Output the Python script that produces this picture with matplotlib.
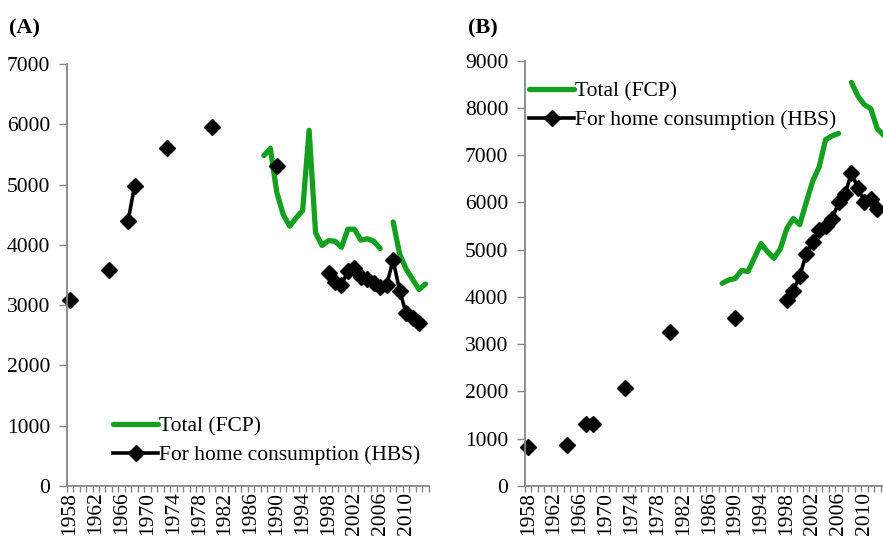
import numpy as np
import pandas as pd
import matplotlib
matplotlib.use('Agg')
import matplotlib.pyplot as plt

plt.rcParams['font.family'] = ['Liberation Serif', 'DejaVu Serif']

years = list(range(1958, 2014))
tick_years = years[::4]

# Panel A
fcp_a_years = list(range(1988, 2007)) + list(range(2008, 2014))
fcp_a = [5480, 5600, 4870, 4500, 4310, 4450, 4570, 5900, 4200, 3990,
         4070, 4060, 3960, 4260, 4260, 4080, 4100, 4060, 3940,
         4380, 3850, 3600, 3430, 3260, 3350]
hbs_a_years = [1958, 1964, 1967, 1968, 1973, 1980, 1990] + list(range(1998, 2013))
hbs_a = [3080, 3590, 4400, 4980, 5600, 5950, 5300,
         3530, 3390, 3340, 3560, 3610, 3460, 3440, 3370, 3300, 3340,
         3750, 3240, 2870, 2780, 2710]

# Panel B
fcp_b_years = list(range(1988, 2007)) + list(range(2008, 2014))
fcp_b = [4290, 4360, 4390, 4560, 4540, 4830, 5130, 4960, 4820, 5020,
         5450, 5660, 5530, 6000, 6450, 6750, 7330, 7410, 7460,
         8540, 8250, 8070, 7980, 7560, 7420]
hbs_b_years = [1958, 1964, 1967, 1968, 1973, 1980, 1990] + list(range(1998, 2013))
hbs_b = [820, 870, 1310, 1310, 2070, 3260, 3550,
         3940, 4130, 4450, 4900, 5170, 5420, 5500, 5650, 6000, 6170,
         6630, 6300, 6020, 6080, 5870]

GREEN = '#14a01e'
GREY = '#868686'


def on_years(yrs, vals):
    return pd.Series(vals, index=yrs, dtype=float).reindex(years).values


def draw_panel(ax, fcp_years, fcp, hbs_years, hbs, ymax, label, leg_anchor):
    x = np.arange(len(years))
    ax.plot(x, on_years(fcp_years, fcp), color=GREEN, lw=3.8,
            solid_capstyle='round', solid_joinstyle='round', label='Total (FCP)')
    ax.plot(x, on_years(hbs_years, hbs), color='black', lw=2.6, marker='D',
            ms=8.2, mec='black', mfc='black', clip_on=False,
            label='For home consumption (HBS)')

    ax.set_xlim(-0.5, len(years) - 0.5)
    ax.set_ylim(0, ymax)
    ax.set_yticks(np.arange(0, ymax + 1, 1000))

    ax.set_xticks(np.arange(-0.5, len(years), 1.0), minor=True)
    ax.set_xticks([years.index(y) for y in tick_years])
    ax.set_xticklabels([str(y) for y in tick_years], rotation=90)
    ax.tick_params(axis='x', which='major', length=0, pad=4, labelsize=15.5)
    ax.tick_params(axis='x', which='minor', length=4, color=GREY, width=1)
    ax.tick_params(axis='y', length=6, color=GREY, width=1, pad=6, labelsize=15.5)

    for side in ['top', 'right']:
        ax.spines[side].set_visible(False)
    for side in ['left', 'bottom']:
        ax.spines[side].set_color(GREY)
        ax.spines[side].set_linewidth(1.3)

    ax.legend(loc='upper left', bbox_to_anchor=leg_anchor,
              bbox_transform=fig.transFigure, frameon=False, fontsize=15.5,
              handlelength=2.1, handletextpad=0.05, labelspacing=0.42,
              borderpad=0, borderaxespad=0)

    fig.text(ax.get_position().x0 - 0.065, 0.948, label, fontsize=16,
             fontweight='bold', ha='left', va='center')


fig = plt.figure(figsize=(8.83, 5.42), dpi=100)
W, H = 883.0, 542.0

ax_a = fig.add_axes([66.7 / W, (H - 486) / H, 362 / W, 422 / H])
ax_b = fig.add_axes([525 / W, (H - 486) / H, 362 / W, 425.3 / H])

draw_panel(ax_a, fcp_a_years, fcp_a, hbs_a_years, hbs_a, 7000, '(A)',
           (113 / W, 1 - 416 / H))
draw_panel(ax_b, fcp_b_years, fcp_b, hbs_b_years, hbs_b, 9000, '(B)',
           (529 / W, 1 - 81 / H))

fig.savefig('out.png', dpi=100)
